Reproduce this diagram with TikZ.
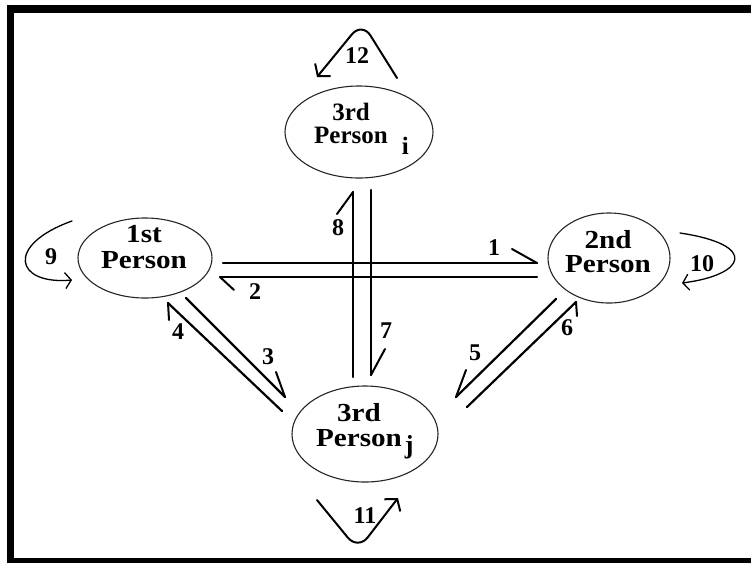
\documentclass[tikz,border=0pt]{standalone}
\usepackage{fontspec}
\setmainfont{Liberation Serif}
\usetikzlibrary{shapes.geometric,arrows.meta}
\newcommand\wide[1]{\scalebox{1.12}[1]{#1}}
\begin{document}
\begin{tikzpicture}[x=1pt,y=-1pt,
  pers/.style={draw=black!85, ellipse, line width=1.1pt, inner sep=0pt},
  conn/.style={line width=2.2pt, line cap=round},
  barb/.style={line width=2pt, line cap=round},
  loopthin/.style={line width=1.3pt, line cap=round, -{Straight Barb[length=6pt,width=16pt,line width=1.3pt]}},
  loopthick/.style={line width=2pt, line cap=round, rounded corners=16pt, -{Straight Barb[length=8pt,width=20pt,line width=2pt]}},
  txt/.style={font=\fontsize{25}{25}\selectfont\bfseries, inner sep=0pt, anchor=base},
  wtxt/.style={font=\fontsize{26}{26}\selectfont\bfseries, inner sep=0pt, anchor=base},
  num/.style={font=\fontsize{24}{24}\selectfont\bfseries, inner sep=0pt}
]
\useasboundingbox (0,0) rectangle (751,563);
\fill[white] (0,0) rectangle (751,563);
% frame (left, top, bottom bands)
\fill[black] (7,5) rectangle (751,12.5);
\fill[black] (7,5) rectangle (14,563);
\fill[black] (7,558) rectangle (751,563);

% ellipses
\node[pers, minimum width=148pt, minimum height=92pt] (pi) at (359,132) {};
\node[pers, minimum width=134pt, minimum height=80pt] (p1) at (145,258) {};
\node[pers, minimum width=122pt, minimum height=90pt] (p2) at (609,258) {};
\node[pers, minimum width=146pt, minimum height=96pt] (pj) at (365,434) {};

% texts
\node[txt] (ti1) at (351,120) {3rd};
\node[txt] (ti2) at (351,143) {Person\rlap{\hspace{14pt}\raisebox{-11pt}{i}}};
\node[wtxt] (t11) at (144,242) {\wide{1st}};
\node[wtxt] (t12) at (144,268) {\wide{Person}};
\node[wtxt] (t21) at (608,248) {\wide{2nd}};
\node[wtxt] (t22) at (608,272) {\wide{Person}};
\node[wtxt] (tj1) at (359,421) {\wide{3rd}};
\node[wtxt] (tj2) at (359,446) {\wide{Person}\rlap{\hspace{3pt}\raisebox{-7pt}{j}}};

% connector end points
\coordinate (h1a) at (223,263); \coordinate (h1b) at (537,263); \coordinate (b1) at (512,249);
\coordinate (h2a) at (220,277); \coordinate (h2b) at (537,277); \coordinate (b2) at (234,290);
\coordinate (v8a) at (353,192); \coordinate (v8b) at (353,377); \coordinate (b8) at (337,214);
\coordinate (v7a) at (371,190); \coordinate (v7b) at (371,375); \coordinate (b7) at (385,349);
\coordinate (d4a) at (168,303); \coordinate (d4b) at (282,411); \coordinate (b4) at (169,320);
\coordinate (d3a) at (186,298); \coordinate (d3b) at (285,397); \coordinate (b3) at (276,372);
\coordinate (d5a) at (556,299); \coordinate (d5b) at (456,397); \coordinate (b5) at (466,370);
\coordinate (d6a) at (576,302); \coordinate (d6b) at (467,407); \coordinate (b6) at (577,316);

% connectors with half arrow heads
\draw[conn] (h1a) -- (h1b); \draw[barb] (b1) -- (h1b);
\draw[conn] (h2b) -- (h2a); \draw[barb] (b2) -- (h2a);
\draw[conn] (v8b) -- (v8a); \draw[barb] (b8) -- (v8a);
\draw[conn] (v7a) -- (v7b); \draw[barb] (b7) -- (v7b);
\draw[conn] (d4b) -- (d4a); \draw[barb] (b4) -- (d4a);
\draw[conn] (d3a) -- (d3b); \draw[barb] (b3) -- (d3b);
\draw[conn] (d5a) -- (d5b); \draw[barb] (b5) -- (d5b);
\draw[conn] (d6b) -- (d6a); \draw[barb] (b6) -- (d6a);

% self loops
\coordinate (l9a) at (72,221); \coordinate (l9b) at (72,280);
\draw[loopthin] (l9a) .. controls (5,245) and (15,285) .. (l9b);
\coordinate (l10a) at (680,233); \coordinate (l10b) at (682,283);
\draw[loopthin] (l10a) .. controls (760,245) and (745,275) .. (l10b);
\coordinate (l12a) at (397,78); \coordinate (l12b) at (317,77);
\draw[loopthick] (l12a) -- (362,22) -- (l12b);
\coordinate (l11a) at (317,500); \coordinate (l11b) at (398,498);
\draw[loopthick] (l11a) -- (358,550) -- (l11b);

% labels
\node[num] (n1) at (494,248) {1};
\node[num] (n2) at (255,292) {2};
\node[num] (n3) at (268,357) {3};
\node[num] (n4) at (178,332) {4};
\node[num] (n5) at (475,353) {5};
\node[num] (n6) at (567,328) {6};
\node[num] (n7) at (386,331) {7};
\node[num] (n8) at (338,228) {8};
\node[num] (n9) at (51,257) {9};
\node[num] (n10) at (702,264) {10};
\node[num] (n11) at (365,516) {11};
\node[num] (n12) at (357,56) {12};
\end{tikzpicture}
\end{document}
